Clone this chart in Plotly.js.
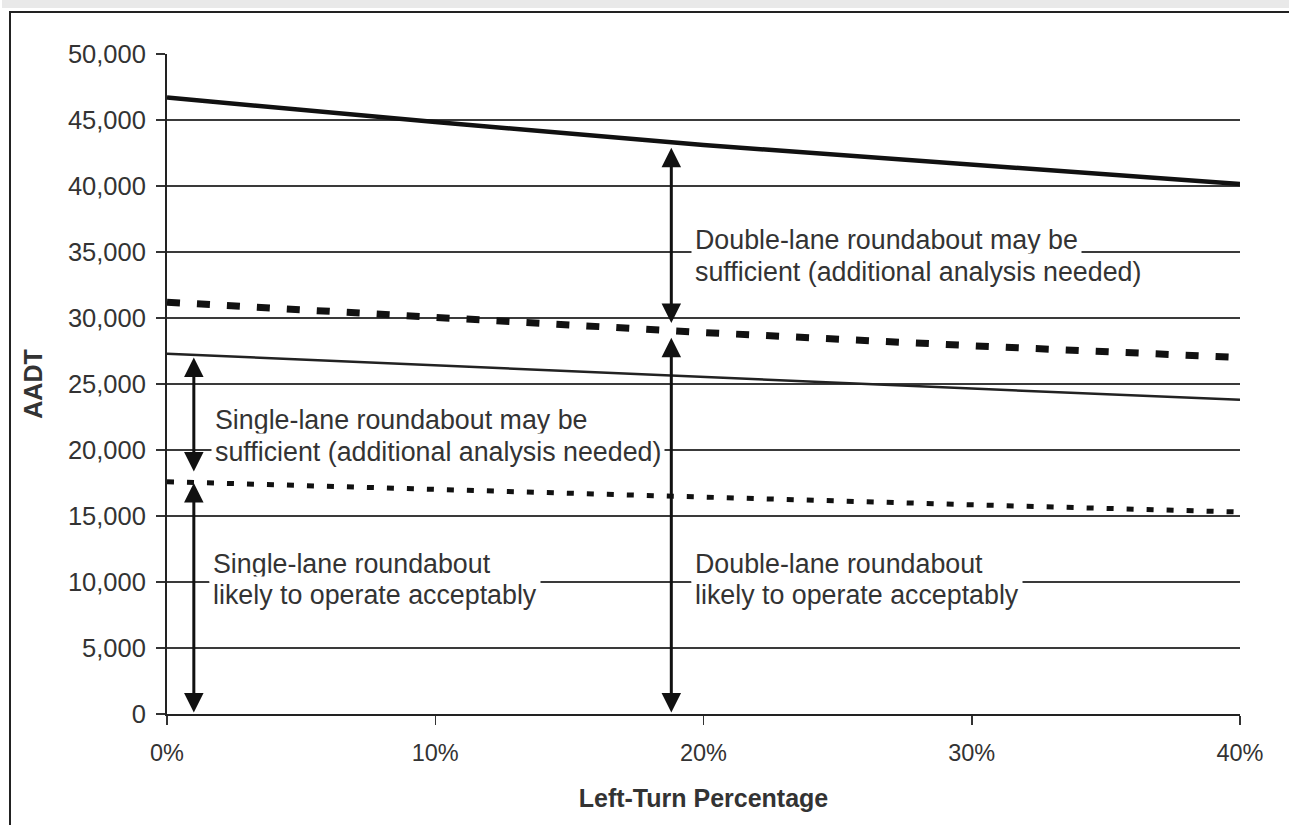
<!DOCTYPE html>
<html>
<head>
<meta charset="utf-8">
<script src="https://cdn.plot.ly/plotly-3.0.1.min.js"></script>
<style>
  html, body { margin: 0; padding: 0; background: #ffffff; width: 1289px; height: 825px; overflow: hidden; }
  #strip { position: absolute; left: 2px; top: 0; width: 1287px; height: 8px; background: #e9e9e9; }
  #frame { position: absolute; left: 9px; top: 11px; width: 1300px; height: 830px;
           border-left: 2px solid #222; border-top: 2px solid #222; }
  #chart { position: absolute; left: 11px; top: 13px; width: 1278px; height: 812px; }
</style>
</head>
<body>
<div id="strip"></div>
<div id="frame"></div>
<div id="chart"></div>
<script>
// Left-turn percentage (x axis)
const leftTurnPct = [0, 10, 20, 30, 40];
// AADT threshold series
const doubleLaneUpper = [46700, 44850, 43100, 41600, 40150];   // thick solid
const doubleLaneLower = [31200, 30000, 28900, 27900, 27000];   // thick dashed
const singleLaneUpper = [27300, 26400, 25500, 24650, 23800];   // thin solid
const singleLaneLower = [17600, 17000, 16450, 15850, 15300];   // dotted

const xTicks = [0, 10, 20, 30, 40];
const xTickText = ['0%', '10%', '20%', '30%', '40%'];
const yTicks = [0, 5000, 10000, 15000, 20000, 25000, 30000, 35000, 40000, 45000, 50000];

// Double-headed arrows: [x, yFrom, yTo]
const arrowSegments = [
  [1.0, 0, 17500],
  [1.0, 18250, 27000],
  [18.8, 0, 28500],
  [18.8, 29500, 42900]
];

// Region label lines: [x, y, text]
const regionLabelLines = [
  [19.55, 35900, 'Double-lane roundabout may be'],
  [19.55, 33480, 'sufficient (additional analysis needed)'],
  [1.65, 22270, 'Single-lane roundabout may be'],
  [1.65, 19850, 'sufficient (additional analysis needed)'],
  [1.55, 11360, 'Single-lane roundabout'],
  [1.55, 9020, 'likely to operate acceptably'],
  [19.55, 11360, 'Double-lane roundabout'],
  [19.55, 9020, 'likely to operate acceptably']
];

const FONT = '"Liberation Sans", Arial, Helvetica, sans-serif';
const TXT = '#333333';

const traces = [
  { x: leftTurnPct, y: doubleLaneUpper, mode: 'lines', line: { color: '#111', width: 4.5 }, hoverinfo: 'skip' },
  { x: leftTurnPct, y: doubleLaneLower, mode: 'lines', line: { color: '#111', width: 7, dash: '13px,17px' }, hoverinfo: 'skip' },
  { x: leftTurnPct, y: singleLaneUpper, mode: 'lines', line: { color: '#222', width: 2.5 }, hoverinfo: 'skip' },
  { x: leftTurnPct, y: singleLaneLower, mode: 'lines', line: { color: '#111', width: 5, dash: '7px,13px' }, hoverinfo: 'skip' }
];

const annotations = [];
regionLabelLines.forEach(l => {
  annotations.push({
    x: l[0], y: l[1], xref: 'x', yref: 'y', text: l[2], showarrow: false,
    xanchor: 'left', yanchor: 'middle', align: 'left', bgcolor: '#ffffff', borderpad: 3,
    font: { family: FONT, size: 26.8, color: TXT }
  });
});
arrowSegments.forEach(s => {
  annotations.push({
    x: s[0], y: s[2], ax: s[0], ay: s[1], xref: 'x', yref: 'y', axref: 'x', ayref: 'y',
    text: '', showarrow: true, arrowhead: 2, arrowside: 'end+start', arrowsize: 1.3,
    arrowwidth: 3, arrowcolor: '#111', standoff: 0, startstandoff: 0
  });
});

const layout = {
  width: 1278, height: 812,
  margin: { l: 156, r: 49, t: 41, b: 111 },
  paper_bgcolor: 'rgba(0,0,0,0)', plot_bgcolor: 'rgba(0,0,0,0)',
  showlegend: false,
  font: { family: FONT, color: TXT },
  xaxis: {
    range: [0, 40], tickvals: xTicks, ticktext: xTickText,
    showgrid: false, zeroline: false, showline: true, linecolor: '#222', linewidth: 2,
    ticks: 'outside', ticklen: 9, tickwidth: 1.5, tickcolor: '#333', ticklabelstandoff: 8,
    tickfont: { family: FONT, size: 23.5, color: TXT },
    title: { text: '<b>Left-Turn Percentage</b>', font: { family: FONT, size: 25, color: TXT }, standoff: 24 },
    fixedrange: true
  },
  yaxis: {
    range: [0, 50000], tickvals: yTicks, tickformat: ',d',
    showgrid: true, gridcolor: '#3a3a3a', gridwidth: 1.6, zeroline: false,
    showline: true, linecolor: '#222', linewidth: 2,
    ticks: 'outside', ticklen: 9, tickwidth: 1.5, tickcolor: '#333', ticklabelstandoff: 5,
    tickfont: { family: FONT, size: 25.5, color: TXT },
    title: { text: '<b>AADT</b>', font: { family: FONT, size: 25, color: TXT }, standoff: 18 },
    fixedrange: true
  },
  annotations: annotations
};

Plotly.newPlot('chart', traces, layout, { staticPlot: true, displayModeBar: false });
</script>
</body>
</html>
